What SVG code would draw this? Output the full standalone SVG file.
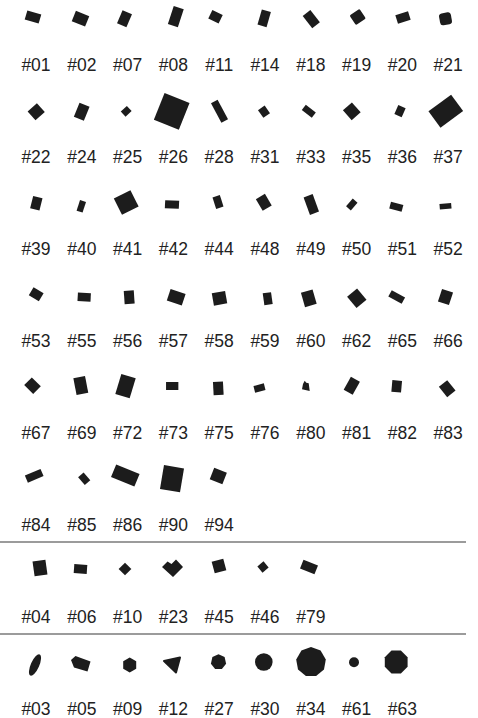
<svg xmlns="http://www.w3.org/2000/svg" width="478" height="718" viewBox="0 0 478 718">
<style>
.s{fill:#1c1c1c}
.t{font-family:"Liberation Sans",Arial,sans-serif;font-size:17.5px;fill:#222;text-anchor:middle}
.sep{stroke:#7a7a7a;stroke-width:1.3}
</style>
<rect width="478" height="718" fill="#fff"/>
<!-- Row 1 -->
<g id="n01"><rect class="s" x="-7.25" y="-4.8" width="14.5" height="9.6" transform="translate(33,17) rotate(16)"/><text class="t" x="36" y="71">#01</text></g>
<g id="n02"><rect class="s" x="-7.2" y="-5.6" width="14.4" height="11.2" transform="translate(80.5,18.7) rotate(22)"/><text class="t" x="81.8" y="71">#02</text></g>
<g id="n07"><rect class="s" x="-5.1" y="-7.1" width="10.2" height="14.2" transform="translate(124.5,18.7) rotate(23)"/><text class="t" x="127.6" y="71">#07</text></g>
<g id="n08"><rect class="s" x="-5.25" y="-9.5" width="10.5" height="19" transform="translate(175.8,16.7) rotate(18)"/><text class="t" x="173.4" y="71">#08</text></g>
<g id="n11"><rect class="s" x="-5.75" y="-4.7" width="11.5" height="9.4" transform="translate(215.5,16.7) rotate(26)"/><text class="t" x="219.2" y="71">#11</text></g>
<g id="n14"><rect class="s" x="-4.7" y="-7.9" width="9.4" height="15.8" transform="translate(264.2,18.3) rotate(16)"/><text class="t" x="265" y="71">#14</text></g>
<g id="n18"><rect class="s" x="-4.85" y="-7.75" width="9.7" height="15.5" transform="translate(311.3,19.2) rotate(-38)"/><text class="t" x="310.8" y="71">#18</text></g>
<g id="n19"><rect class="s" x="-6" y="-5.85" width="12" height="11.7" rx="1.5" transform="translate(357.7,17) rotate(-34)"/><text class="t" x="356.6" y="71">#19</text></g>
<g id="n20"><rect class="s" x="-6.65" y="-4.4" width="13.3" height="8.8" transform="translate(403,17.5) rotate(-17.5)"/><text class="t" x="402.4" y="71">#20</text></g>
<g id="n21"><rect class="s" x="-6" y="-6" width="12" height="12" rx="3" transform="translate(445.5,18.8) rotate(-10)"/><text class="t" x="448.2" y="71">#21</text></g>
<!-- Row 2 -->
<g id="n22"><rect class="s" x="-6.25" y="-5.9" width="12.5" height="11.8" transform="translate(36.2,111.7) rotate(-42)"/><text class="t" x="36" y="163">#22</text></g>
<g id="n24"><rect class="s" x="-5.4" y="-7.6" width="10.8" height="15.2" transform="translate(81.7,111.7) rotate(22)"/><text class="t" x="81.8" y="163">#24</text></g>
<g id="n25"><rect class="s" x="-4.15" y="-3.5" width="8.3" height="7" transform="translate(126.2,111.3) rotate(-43)"/><text class="t" x="127.6" y="163">#25</text></g>
<g id="n26"><rect class="s" x="-13.45" y="-14.4" width="26.9" height="28.8" transform="translate(171.7,111.3) rotate(21.8)"/><text class="t" x="173.4" y="163">#26</text></g>
<g id="n28"><rect class="s" x="-3.75" y="-11.1" width="7.5" height="22.2" transform="translate(219.5,111.3) rotate(-28)"/><text class="t" x="219.2" y="163">#28</text></g>
<g id="n31"><rect class="s" x="-4.05" y="-4.7" width="8.1" height="9.4" transform="translate(264,111.7) rotate(-35)"/><text class="t" x="265" y="163">#31</text></g>
<g id="n33"><rect class="s" x="-6.3" y="-3.3" width="12.6" height="6.6" transform="translate(308.8,111.2) rotate(37.5)"/><text class="t" x="310.8" y="163">#33</text></g>
<g id="n35"><rect class="s" x="-6" y="-6.6" width="12" height="13.2" transform="translate(351.8,111.3) rotate(-41.6)"/><text class="t" x="356.6" y="163">#35</text></g>
<g id="n36"><rect class="s" x="-4" y="-4.9" width="8" height="9.8" transform="translate(400,111.2) rotate(24)"/><text class="t" x="402.4" y="163">#36</text></g>
<g id="n37"><rect class="s" x="-14.05" y="-10.15" width="28.1" height="20.3" transform="translate(445.8,111.2) rotate(-36.3)"/><text class="t" x="448.2" y="163">#37</text></g>
<!-- Row 3 -->
<g id="n39"><rect class="s" x="-4.8" y="-6.3" width="9.6" height="12.6" transform="translate(36.3,203.3) rotate(14)"/><text class="t" x="36" y="255">#39</text></g>
<g id="n40"><rect class="s" x="-3.15" y="-5.6" width="6.3" height="11.2" transform="translate(81.3,206.3) rotate(18)"/><text class="t" x="81.8" y="255">#40</text></g>
<g id="n41"><rect class="s" x="-9.3" y="-9.15" width="18.6" height="18.3" transform="translate(126.2,202.5) rotate(-26.6)"/><text class="t" x="127.6" y="255">#41</text></g>
<g id="n42"><rect class="s" x="-7" y="-4" width="14" height="8" transform="translate(172,204.5) rotate(3)"/><text class="t" x="173.4" y="255">#42</text></g>
<g id="n44"><rect class="s" x="-3.85" y="-6.05" width="7.7" height="12.1" transform="translate(218,202) rotate(-17.7)"/><text class="t" x="219.2" y="255">#44</text></g>
<g id="n48"><rect class="s" x="-5.25" y="-6.7" width="10.5" height="13.4" transform="translate(263.8,202.3) rotate(-30.6)"/><text class="t" x="265" y="255">#48</text></g>
<g id="n49"><rect class="s" x="-4.8" y="-9.3" width="9.6" height="18.6" transform="translate(311.3,204.5) rotate(-20)"/><text class="t" x="310.8" y="255">#49</text></g>
<g id="n50"><rect class="s" x="-5.1" y="-3.15" width="10.2" height="6.3" transform="translate(351.8,204.5) rotate(-49)"/><text class="t" x="356.6" y="255">#50</text></g>
<g id="n51"><rect class="s" x="-6.4" y="-3.45" width="12.8" height="6.9" transform="translate(396.3,206.7) rotate(15)"/><text class="t" x="402.4" y="255">#51</text></g>
<g id="n52"><rect class="s" x="-5.85" y="-2.75" width="11.7" height="5.5" transform="translate(445.5,206.3) rotate(-5)"/><text class="t" x="448.2" y="255">#52</text></g>
<!-- Row 4 -->
<g id="n53"><rect class="s" x="-5.85" y="-4.65" width="11.7" height="9.3" transform="translate(36.2,294.2) rotate(31)"/><text class="t" x="36" y="347">#53</text></g>
<g id="n55"><rect class="s" x="-6.5" y="-4.25" width="13" height="8.5" transform="translate(84.2,297.2) rotate(3)"/><text class="t" x="81.8" y="347">#55</text></g>
<g id="n56"><rect class="s" x="-5" y="-6.65" width="10" height="13.3" transform="translate(129.2,297.2) rotate(-4)"/><text class="t" x="127.6" y="347">#56</text></g>
<g id="n57"><rect class="s" x="-7.9" y="-6.05" width="15.8" height="12.1" transform="translate(176.2,297.3) rotate(18.4)"/><text class="t" x="173.4" y="347">#57</text></g>
<g id="n58"><rect class="s" x="-6.75" y="-6.3" width="13.5" height="12.6" transform="translate(219.5,298.3) rotate(-10)"/><text class="t" x="219.2" y="347">#58</text></g>
<g id="n59"><rect class="s" x="-4.2" y="-6" width="8.4" height="12" transform="translate(267.7,298.7) rotate(-8)"/><text class="t" x="265" y="347">#59</text></g>
<g id="n60"><rect class="s" x="-6.05" y="-7.5" width="12.1" height="15" transform="translate(308.8,298.3) rotate(-16)"/><text class="t" x="310.8" y="347">#60</text></g>
<g id="n62"><rect class="s" x="-6.5" y="-7.35" width="13" height="14.7" transform="translate(356.8,298.3) rotate(-39.8)"/><text class="t" x="356.6" y="347">#62</text></g>
<g id="n65"><rect class="s" x="-7.6" y="-3.6" width="15.2" height="7.2" transform="translate(396.7,297) rotate(28.8)"/><text class="t" x="402.4" y="347">#65</text></g>
<g id="n66"><rect class="s" x="-5.8" y="-6.55" width="11.6" height="13.1" transform="translate(445.5,297) rotate(18.4)"/><text class="t" x="448.2" y="347">#66</text></g>
<!-- Row 5 -->
<g id="n67"><rect class="s" x="-5.4" y="-6.35" width="10.8" height="12.7" transform="translate(32.5,385.7) rotate(-45)"/><text class="t" x="36" y="439">#67</text></g>
<g id="n69"><rect class="s" x="-5.95" y="-8.5" width="11.9" height="17" transform="translate(80.8,385.5) rotate(-11)"/><text class="t" x="81.8" y="439">#69</text></g>
<g id="n72"><rect class="s" x="-7.5" y="-10.45" width="15" height="20.9" transform="translate(125.5,386.2) rotate(16.8)"/><text class="t" x="127.6" y="439">#72</text></g>
<g id="n73"><rect class="s" x="-6.15" y="-4" width="12.3" height="8" transform="translate(172.2,386)"/><text class="t" x="173.4" y="439">#73</text></g>
<g id="n75"><rect class="s" x="-5" y="-6.65" width="10" height="13.3" transform="translate(218.3,388.3) rotate(-3)"/><text class="t" x="219.2" y="439">#75</text></g>
<g id="n76"><rect class="s" x="-5.35" y="-3.4" width="10.7" height="6.8" transform="translate(259.5,388) rotate(-14.5)"/><text class="t" x="265" y="439">#76</text></g>
<g id="n80"><polygon class="s" points="303,384 304.7,380.7 306.3,382.7 308.7,383.3 309.7,391 302,389.3"/><text class="t" x="310.8" y="439">#80</text></g>
<g id="n81"><rect class="s" x="-5.15" y="-7.45" width="10.3" height="14.9" transform="translate(351.8,385.8) rotate(29)"/><text class="t" x="356.6" y="439">#81</text></g>
<g id="n82"><rect class="s" x="-4.85" y="-5.85" width="9.7" height="11.7" transform="translate(396.7,386.3) rotate(5)"/><text class="t" x="402.4" y="439">#82</text></g>
<g id="n83"><rect class="s" x="-5.35" y="-6.65" width="10.7" height="13.3" transform="translate(447.2,388.7) rotate(-38.7)"/><text class="t" x="448.2" y="439">#83</text></g>
<!-- Row 6 -->
<g id="n84"><rect class="s" x="-8.5" y="-3.9" width="17" height="7.8" transform="translate(34.2,475.8) rotate(-23)"/><text class="t" x="36" y="531">#84</text></g>
<g id="n85"><rect class="s" x="-5.1" y="-3.65" width="10.2" height="7.3" transform="translate(84.2,478.7) rotate(49)"/><text class="t" x="81.8" y="531">#85</text></g>
<g id="n86"><rect class="s" x="-12.65" y="-6.8" width="25.3" height="13.6" transform="translate(125.3,475.5) rotate(22.5)"/><text class="t" x="127.6" y="531">#86</text></g>
<g id="n90"><rect class="s" x="-10.15" y="-12.15" width="20.3" height="24.3" transform="translate(172,478.7) rotate(9.5)"/><text class="t" x="173.4" y="531">#90</text></g>
<g id="n94"><rect class="s" x="-6.8" y="-6.15" width="13.6" height="12.3" transform="translate(218.3,476) rotate(21.5)"/><text class="t" x="219.2" y="531">#94</text></g>
<!-- separators -->
<line class="sep" x1="0" y1="542" x2="466" y2="542"/>
<line class="sep" x1="0" y1="634" x2="466" y2="634"/>
<!-- Row 7 -->
<g id="n04"><rect class="s" x="-6.5" y="-7.5" width="13" height="15" transform="translate(40,568) rotate(-8)"/><text class="t" x="36" y="623">#04</text></g>
<g id="n06"><rect class="s" x="-6.5" y="-4.5" width="13" height="9" transform="translate(80.5,569) rotate(4)"/><text class="t" x="81.8" y="623">#06</text></g>
<g id="n10"><rect class="s" x="-4.5" y="-4.5" width="9" height="9" transform="translate(125,569) rotate(45)"/><text class="t" x="127.6" y="623">#10</text></g>
<g id="n23"><polygon class="s" points="162,567 167.5,561.5 171.5,564 176,559.5 183,567 173,577"/><text class="t" x="173.4" y="623">#23</text></g>
<g id="n45"><rect class="s" x="-6" y="-6" width="12" height="12" transform="translate(219,566) rotate(-15)"/><text class="t" x="219.2" y="623">#45</text></g>
<g id="n46"><rect class="s" x="-4" y="-4" width="8" height="8" transform="translate(263,567) rotate(50)"/><text class="t" x="265" y="623">#46</text></g>
<g id="n79"><rect class="s" x="-7.8" y="-4.7" width="15.6" height="9.4" transform="translate(309,567) rotate(22)"/><text class="t" x="310.8" y="623">#79</text></g>
<!-- Row 8 -->
<g id="n03"><ellipse class="s" cx="0" cy="0" rx="4.2" ry="11.5" transform="translate(35,665) rotate(24)"/><text class="t" x="36" y="715">#03</text></g>
<g id="n05"><polygon class="s" points="71,660 75.5,656 90.5,661.5 87.5,671.5 74,667.5"/><text class="t" x="81.8" y="715">#05</text></g>
<g id="n09"><polygon class="s" points="129.7,657.5 136.2,661.25 136.2,668.75 129.7,672.5 123.2,668.75 123.2,661.25"/><text class="t" x="127.6" y="715">#09</text></g>
<g id="n12"><polygon class="s" points="164,661 180,657.5 176,672.5" stroke="#1c1c1c" stroke-width="2" stroke-linejoin="round"/><text class="t" x="173.4" y="715">#12</text></g>
<g id="n27"><polygon class="s" points="218.5,654.2 224.6,657.1 226.1,663.7 221.9,669 215.1,669 210.9,663.7 212.4,657.1"/><text class="t" x="219.2" y="715">#27</text></g>
<g id="n30"><circle class="s" cx="263.8" cy="662" r="8.8"/><text class="t" x="265" y="715">#30</text></g>
<g id="n34"><polygon class="s" points="311,647 320.6,650.5 325.8,659.4 324,669.5 316.1,676.1 305.9,676.1 298,669.5 296.2,659.4 301.4,650.5"/><text class="t" x="310.8" y="715">#34</text></g>
<g id="n61"><circle class="s" cx="354" cy="662.3" r="5"/><text class="t" x="356.6" y="715">#61</text></g>
<g id="n63"><polygon class="s" points="407.6,666.7 400.9,673.4 391.5,673.4 384.8,666.7 384.8,657.3 391.5,650.6 400.9,650.6 407.6,657.3"/><text class="t" x="402.4" y="715">#63</text></g>
</svg>
